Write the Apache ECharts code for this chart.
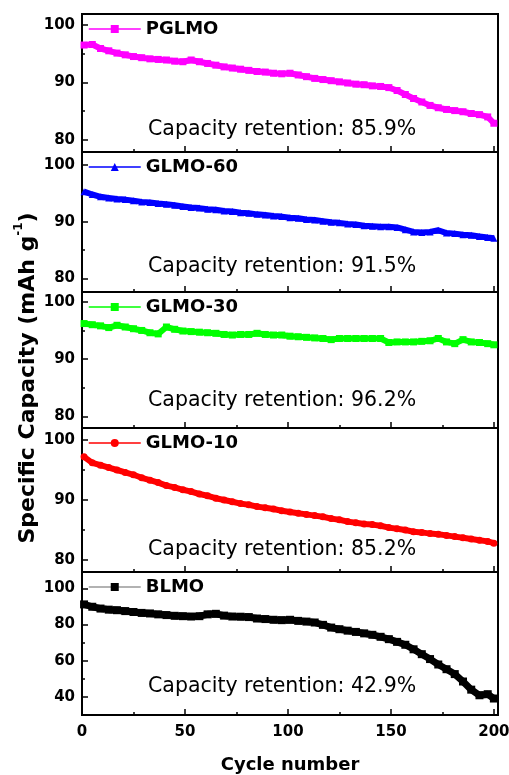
<!DOCTYPE html>
<html>
<head>
<meta charset="utf-8">
<script src="https://cdn.jsdelivr.net/npm/echarts@6/dist/echarts.min.js"></script>
<style>
html,body{margin:0;padding:0;background:#fff;}
#chart{width:509px;height:775px;}
</style>
</head>
<body>
<div id="chart"></div>
<script>
// ---- data ----
var cycles = [1,5,9,13,17,21,25,29,33,37,41,45,49,53,57,61,65,69,73,77,81,85,89,93,97,101,105,109,113,117,121,125,129,133,137,141,145,149,153,157,161,165,169,173,177,181,185,189,193,197,200];
var seriesNames = ['PGLMO','GLMO-60','GLMO-30','GLMO-10','BLMO'];
var retentionTexts = ['Capacity retention: 85.9%','Capacity retention: 91.5%','Capacity retention: 96.2%','Capacity retention: 85.2%','Capacity retention: 42.9%'];
var pglmo = [96.5,96.6,95.9,95.5,95.1,94.8,94.5,94.3,94.1,94.0,93.9,93.7,93.6,93.9,93.6,93.3,93.0,92.7,92.5,92.3,92.1,91.9,91.8,91.6,91.5,91.6,91.3,91.0,90.7,90.5,90.3,90.1,89.9,89.7,89.6,89.4,89.3,89.1,88.6,87.9,87.2,86.6,86.0,85.6,85.3,85.1,84.9,84.6,84.4,84.0,82.9];
var glmo60 = [95.3,94.8,94.4,94.2,94.0,93.9,93.7,93.5,93.4,93.2,93.1,92.9,92.7,92.5,92.4,92.2,92.1,91.9,91.8,91.6,91.5,91.3,91.2,91.0,90.9,90.7,90.6,90.4,90.3,90.1,89.9,89.8,89.6,89.5,89.3,89.2,89.1,89.1,89.0,88.6,88.2,88.1,88.2,88.5,88.0,87.9,87.7,87.6,87.4,87.2,87.1];
var glmo30 = [96.2,96.0,95.8,95.5,95.9,95.6,95.3,95.0,94.6,94.4,95.6,95.2,94.9,94.8,94.7,94.6,94.5,94.3,94.2,94.3,94.3,94.5,94.3,94.2,94.2,94.0,93.9,93.8,93.7,93.6,93.4,93.6,93.6,93.6,93.6,93.6,93.6,92.9,93.0,93.0,93.0,93.1,93.2,93.6,93.0,92.7,93.4,93.0,92.9,92.7,92.5];
var glmo10 = [97.2,96.2,95.8,95.4,95.0,94.6,94.2,93.7,93.3,92.9,92.4,92.1,91.7,91.4,91.0,90.7,90.3,90.0,89.7,89.4,89.2,88.9,88.7,88.5,88.2,88.0,87.8,87.6,87.4,87.2,86.9,86.7,86.4,86.2,86.0,85.9,85.7,85.4,85.2,85.0,84.7,84.6,84.4,84.3,84.1,83.9,83.7,83.5,83.3,83.1,82.8];
var blmo = [91.1,89.8,88.8,88.2,87.9,87.4,86.9,86.4,86.1,85.6,85.2,84.8,84.6,84.4,84.6,85.6,85.9,84.9,84.4,84.3,84.1,83.3,83.0,82.6,82.4,82.6,82.0,81.6,81.1,79.8,78.3,77.4,76.6,75.9,75.1,74.3,73.2,71.9,70.4,68.8,66.3,63.6,60.9,57.9,55.3,52.6,48.5,44.0,40.9,41.5,39.1];
var yMajor = [[80,90,100],[80,90,100],[80,90,100],[80,90,100],[40,60,80,100]];
var yMinor = [[85,95],[85,95],[85,95],[85,95],[50,70,90]];
var yMin = [77.9,77.6,78.0,78.0,30];
var yMax = [101.9,102.3,101.7,102.0,109];

var allValues = [pglmo, glmo60, glmo30, glmo10, blmo];
var colors = ['#ff00ff','#0000ff','#00ff00','#ff0000','#000000'];
var symbols = ['rect','triangle','rect','circle','rect'];
var gridTops = [14,152,292,428,572];
var gridHeights = [138,140,136,144,143];
var textCenters = [131,268,402,551,688];
var FONT = 'DejaVu Sans';

var grids = [], xAxes = [], yAxes = [], series = [], legends = [], graphics = [];
for (var i = 0; i < 5; i++) {
  grids.push({left:82, right:11, top:gridTops[i], height:gridHeights[i], show:true, borderColor:'#000', borderWidth:2,
    backgroundColor:'transparent', containLabel:false, outerBoundsMode:'none'});
  xAxes.push({
    gridIndex:i, type:'value', min:0, max:202, interval:50,
    axisLine:{show:false},
    axisTick:{show:true, inside:true, length:6, lineStyle:{color:'#000', width:1.5}},
    minorTick:{show:true, splitNumber:2, length:3, lineStyle:{color:'#000', width:1.5}},
    axisLabel:{show:i===4, color:'#000', fontFamily:FONT, fontWeight:'bold', fontSize:15, margin:10, showMaxLabel:false},
    splitLine:{show:false}, minorSplitLine:{show:false}
  });
  yAxes.push({
    gridIndex:i, type:'value', min:yMin[i], max:yMax[i], position:'left',
    axisLine:{show:false},
    axisTick:{show:true, inside:true, length:6, lineStyle:{color:'#000', width:1.5}, customValues:yMajor[i]},
    axisLabel:{show:true, color:'#000', fontFamily:FONT, fontWeight:'bold', fontSize:15, margin:7, customValues:yMajor[i]},
    splitLine:{show:false}
  });
  yAxes.push({
    gridIndex:i, type:'value', min:yMin[i], max:yMax[i], position:'left',
    axisLine:{show:false},
    axisTick:{show:true, inside:true, length:3, lineStyle:{color:'#000', width:1.5}, customValues:yMinor[i]},
    axisLabel:{show:false, customValues:yMinor[i]},
    splitLine:{show:false}
  });
  var vals = allValues[i];
  series.push({
    name:seriesNames[i], type:'line', xAxisIndex:i, yAxisIndex:2*i,
    data: cycles.map(function(c, j){ return [c, vals[j]]; }),
    symbol:symbols[i], symbolSize: i===4 ? 8 : 7, showSymbol:true,
    itemStyle:{color:colors[i]},
    lineStyle:{color:colors[i], width: i===4 ? 7 : 6},
    animation:false, z:3
  });
  legends.push({
    data:[{name:seriesNames[i], lineStyle:{color: i===4 ? '#999' : colors[i], width:1.5}, itemStyle:{color:colors[i]}}],
    left:88, top:gridTops[i] + 6, padding:0, itemWidth:52, itemHeight:10, itemGap:6,
    textStyle:{color:'#000', fontFamily:FONT, fontWeight:'bold', fontSize:18},
    selectedMode:false
  });
  graphics.push({
    type:'text', left:148, top:textCenters[i] - 12,
    style:{text:retentionTexts[i], fill:'#000', font:'20.5px "DejaVu Sans"'}
  });
}
graphics.push({
  type:'text', x:28, y:378, rotation:Math.PI/2,
  style:{
    text:'{a|Specific Capacity (mAh g}{s|-1}{a|)}',
    align:'center', verticalAlign:'middle', fill:'#000',
    rich:{
      a:{fontFamily:FONT, fontWeight:'bold', fontSize:22, lineHeight:30, fill:'#000'},
      s:{fontFamily:FONT, fontWeight:'bold', fontSize:12, lineHeight:12, verticalAlign:'top', fill:'#000'}
    }
  }
});
graphics.push({
  type:'text', x:290, y:765,
  style:{text:'Cycle number', align:'center', verticalAlign:'middle', fill:'#000', font:'bold 18px "DejaVu Sans"'}
});

var chart = echarts.init(document.getElementById('chart'), null, {renderer:'canvas'});
chart.setOption({
  animation:false,
  backgroundColor:'#fff',
  textStyle:{fontFamily:FONT},
  grid:grids, xAxis:xAxes, yAxis:yAxes, series:series, legend:legends, graphic:graphics
});
</script>
</body>
</html>
